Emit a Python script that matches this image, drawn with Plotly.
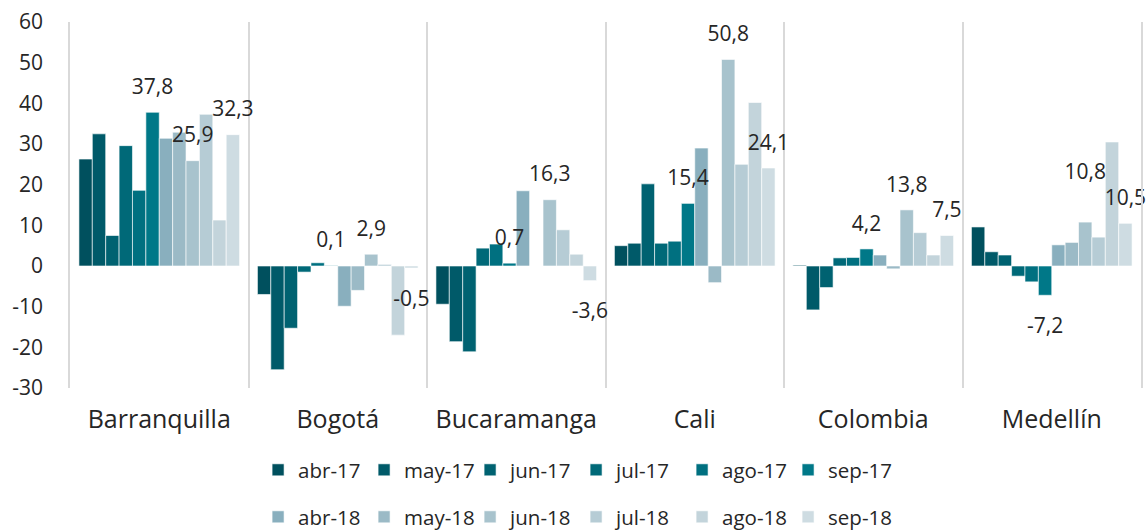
import plotly.graph_objects as go
import numpy as np

categories = ["Barranquilla", "Bogotá", "Bucaramanga", "Cali", "Colombia", "Medellín"]

series_names = ["abr-17", "may-17", "jun-17", "jul-17", "ago-17", "sep-17",
                "abr-18", "may-18", "jun-18", "jul-18", "ago-18", "sep-18"]

abr_17 = [26.3, -7.0, -9.4, 5.0, 0.2, 9.6]
may_17 = [32.5, -25.5, -18.6, 5.6, -10.8, 3.5]
jun_17 = [7.5, -15.3, -21.1, 20.2, -5.3, 2.7]
jul_17 = [29.6, -1.5, 4.4, 5.6, 2.0, -2.5]
ago_17 = [18.6, 0.8, 5.4, 6.1, 2.1, -3.9]
sep_17 = [37.8, 0.1, 0.7, 15.4, 4.2, -7.2]
abr_18 = [31.4, -9.9, 18.5, 29.0, 2.7, 5.2]
may_18 = [32.9, -6.0, 0.0, -4.1, -0.7, 5.8]
jun_18 = [25.9, 2.9, 16.3, 50.8, 13.8, 10.8]
jul_18 = [37.3, 0.4, 8.9, 25.0, 8.2, 7.1]
ago_18 = [11.3, -17.0, 2.9, 40.2, 2.7, 30.5]
sep_18 = [32.3, -0.5, -3.6, 24.1, 7.5, 10.5]

series_values = [abr_17, may_17, jun_17, jul_17, ago_17, sep_17,
                 abr_18, may_18, jun_18, jul_18, ago_18, sep_18]

labelled_series = ["sep-17", "jun-18", "sep-18"]

y_tick_values = [-30, -20, -10, 0, 10, 20, 30, 40, 50, 60]
y_tick_labels = ["-30", "-20", "-10", "0", "10", "20", "30", "40", "50", "60"]

colors = ["#00505E", "#005A69", "#006271", "#006978", "#007080", "#007888",
          "#89AFBE", "#9BBAC6", "#A8C3CD", "#B6CCD5", "#C3D4DB", "#CEDCE2"]

FONT = "'Open Sans', Lato, sans-serif"
TXT = "#262626"
LABEL_PX = 21


def fmt(v):
    return f"{v:.1f}".replace(".", ",")


def label_text(v, extra_lift=0):
    # small blank lines keep the label a little away from the bar end
    vis = f"<span style='font-size:{LABEL_PX}px'>{fmt(v)}</span>"
    if v >= 0:
        return vis + "<br>\u00a0" * (1 + extra_lift)
    return "\u00a0<br>\u00a0<br>" + vis


def labels_for(name):
    vals = series_values[series_names.index(name)]
    out = []
    for j, v in enumerate(vals):
        lift = 0
        if name == "jun-18":
            other = sep_18[j]
            if v >= 0 and other >= 0 and abs(v - other) < 2:
                lift = 2  # avoid collision with the neighbouring sep-18 label
        out.append(label_text(v, lift))
    return vals, out


fig = go.Figure()
for i, (name, vals) in enumerate(zip(series_names, series_values)):
    fig.add_trace(go.Bar(
        x=categories, y=vals, name=name, offsetgroup=name,
        marker=dict(color=colors[i], line=dict(color="white", width=0.6)),
        legend="legend" if i < 6 else "legend2",
        hovertemplate="%{x}<br>" + name + ": %{y}<extra></extra>",
    ))

# label overlays drawn last so text sits on top of neighbouring bars
for name in labelled_series:
    vals, texts = labels_for(name)
    fig.add_trace(go.Bar(
        x=categories, y=vals, name=name + " lbl", offsetgroup=name,
        marker=dict(color="rgba(0,0,0,0)", line=dict(width=0)),
        text=texts, textposition="outside",
        textfont=dict(family=FONT, size=9.5, color=TXT),
        constraintext="none", cliponaxis=False,
        showlegend=False, hoverinfo="skip",
    ))

n = len(categories)
legend_common = dict(
    orientation="h", xref="container", x=0.2252, xanchor="left",
    yref="container", yanchor="middle",
    entrywidth=61, entrywidthmode="pixels",
    font=dict(family=FONT, size=20.5, color=TXT),
    itemclick=False, itemdoubleclick=False, tracegroupgap=0,
)

fig.update_layout(
    width=1146, height=531,
    margin=dict(l=70, r=5, t=22, b=143),
    paper_bgcolor="white", plot_bgcolor="white",
    barmode="group", bargap=0.1, bargroupgap=0,
    font=dict(family=FONT, size=20, color=TXT),
    xaxis=dict(
        type="category", categoryorder="array", categoryarray=categories,
        range=[-0.5, n - 0.5],
        tickson="boundaries", showgrid=True, gridcolor="#d9d9d9", gridwidth=1.5,
        ticks="", showline=False, zeroline=False,
        tickfont=dict(family=FONT, size=25, color=TXT),
        ticklabelstandoff=14, automargin=False,
    ),
    xaxis2=dict(
        overlaying="x", anchor="free", position=1/3,
        type="linear", range=[-0.5, n - 0.5],
        tickmode="array", tickvals=list(np.arange(n + 1) - 0.5),
        showticklabels=False, ticks="outside", ticklen=7, tickwidth=1.5,
        tickcolor="#8c8c8c", showline=True, linecolor="#8c8c8c", linewidth=2,
        showgrid=False, zeroline=False,
    ),
    yaxis=dict(
        range=[-30, 60], tickmode="array", tickvals=y_tick_values, ticktext=y_tick_labels,
        showgrid=False, zeroline=False, ticks="",
        showline=True, mirror=True, linecolor="#d9d9d9", linewidth=1.5,
        tickfont=dict(family=FONT, size=21, color=TXT),
        ticklabelstandoff=21, automargin=False,
    ),
    legend=dict(legend_common, y=1 - 470 / 531),
    legend2=dict(legend_common, y=1 - 517 / 531),
    showlegend=True,
)

fig.write_html("out.html", config={"displayModeBar": False},
               post_script="document.body.style.margin='0';")
